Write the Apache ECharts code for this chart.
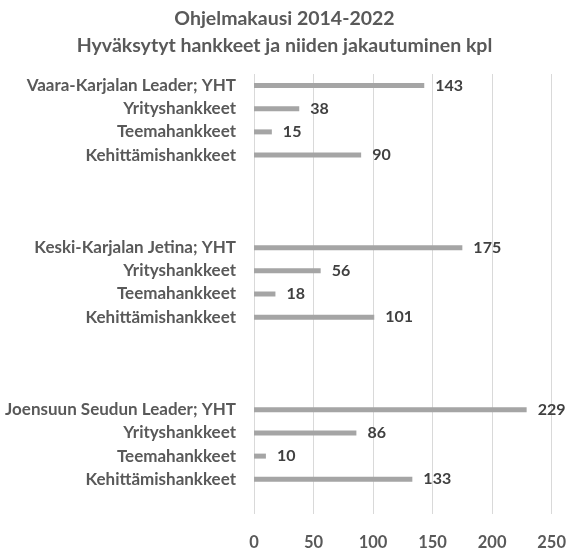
<!DOCTYPE html>
<html>
<head>
<meta charset="utf-8">
<script src="https://cdn.jsdelivr.net/npm/echarts@6/dist/echarts.min.js"></script>
<style>
  html, body { margin: 0; padding: 0; background: #fff; }
  #main { width: 569px; height: 552px; }
</style>
</head>
<body>
<div id="main"></div>
<script>
// categories: one group per Leader area, top to bottom
var groups = ['Vaara-Karjalan Leader; YHT', 'Keski-Karjalan Jetina; YHT', 'Joensuun Seudun Leader; YHT'];
var subTypes = ['Yrityshankkeet', 'Teemahankkeet', 'Kehittämishankkeet'];
// values per group: [YHT, Yritys, Teema, Kehittämis]
var vaaraValues = [143, 38, 15, 90];
var keskiValues = [175, 56, 18, 101];
var joensuuValues = [229, 86, 10, 133];
var xTicks = [0, 50, 100, 150, 200, 250];

var groupValues = [vaaraValues, keskiValues, joensuuValues];

// build the rows, with empty rows between groups like the original
var rowLabels = [];
var rowValues = [];
for (var g = 0; g < groups.length; g++) {
	rowLabels.push(groups[g]);
	rowValues.push(groupValues[g][0]);
	for (var s = 0; s < subTypes.length; s++) {
		rowLabels.push(subTypes[s]);
		rowValues.push(groupValues[g][s + 1]);
	}
	var gaps = g < groups.length - 1 ? 3 : 1;
	for (var k = 0; k < gaps; k++) {
		rowLabels.push('');
		rowValues.push('-');
	}
}

var font = 'Lato, "Open Sans", sans-serif';
var textColor = '#595959';

var myChart = echarts.init(document.getElementById('main'));
var option = {
	animation: false,
	title: {
		text: 'Ohjelmakausi 2014-2022\nHyväksytyt hankkeet ja niiden jakautuminen kpl',
		left: 'center',
		top: 0,
		textStyle: {
			fontFamily: font,
			fontSize: 19.5,
			fontWeight: 'bold',
			color: textColor,
			lineHeight: 27
		}
	},
	grid: {
		left: 254,
		right: 15,
		top: 74,
		height: 440,
		containLabel: false
	},
	xAxis: {
		type: 'value',
		min: xTicks[0],
		max: xTicks[xTicks.length - 1],
		interval: 50,
		axisLine: { show: false },
		axisTick: { show: false },
		splitLine: { show: true, lineStyle: { color: '#d9d9d9', width: 1 } },
		axisLabel: {
			margin: 20,
			fontFamily: font,
			fontSize: 16.5,
			fontWeight: 'bold',
			color: textColor
		}
	},
	yAxis: {
		type: 'category',
		inverse: true,
		data: rowLabels,
		axisLine: { show: false },
		axisTick: { show: false },
		axisLabel: {
			margin: 18,
			interval: 0,
			padding: [7, 0, 0, 0],
			fontFamily: font,
			fontSize: 17,
			fontWeight: 'bold',
			color: textColor
		}
	},
	series: [
		{
			name: 'kpl',
			type: 'bar',
			data: rowValues,
			barWidth: 5,
			itemStyle: { color: '#a5a5a5' },
			label: {
				show: true,
				position: 'right',
				distance: 11,
				fontFamily: font,
				fontSize: 16,
				fontWeight: 'bold',
				color: '#404040'
			}
		}
	]
};
myChart.setOption(option);
</script>
</body>
</html>
